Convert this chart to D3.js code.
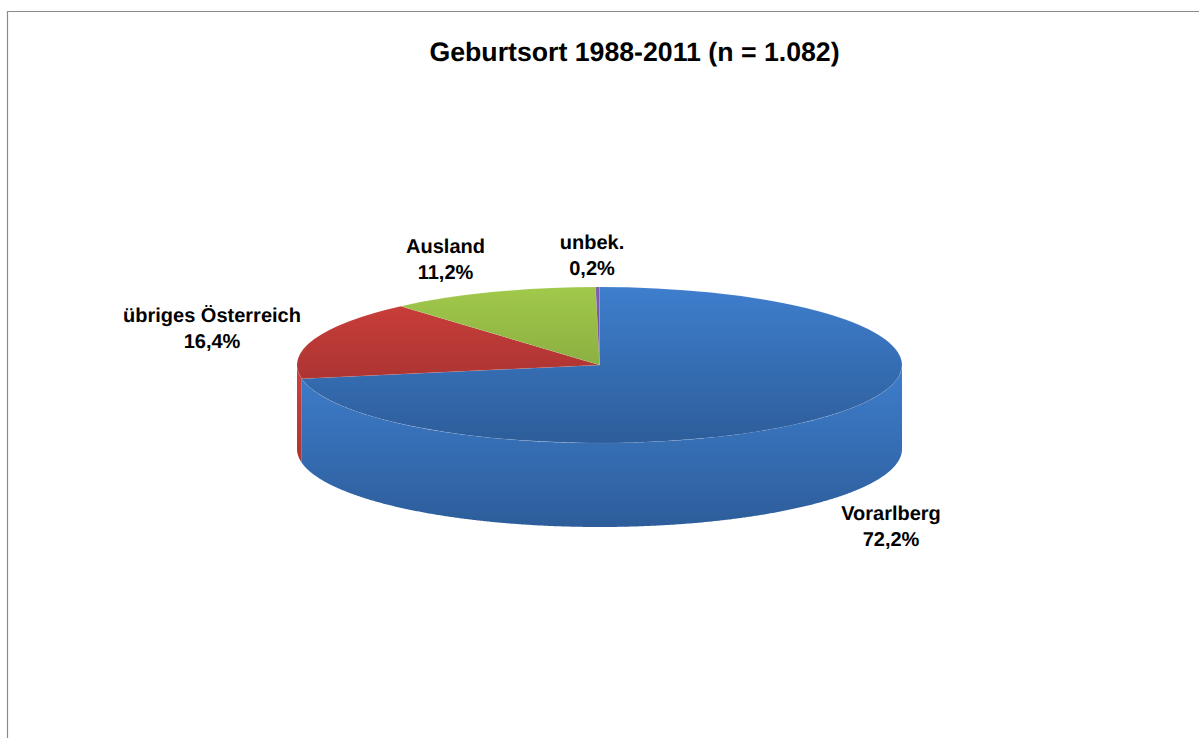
<!DOCTYPE html>
<html>
<head>
<meta charset="utf-8">
<script src="https://cdn.jsdelivr.net/npm/d3@7"></script>
<style>
html, body { margin: 0; padding: 0; background: #fff; }
svg { display: block; }
text { font-family: "Liberation Sans", Arial, sans-serif; font-weight: bold; fill: #000; text-anchor: middle; text-rendering: geometricPrecision; }
</style>
</head>
<body>
<div id="graphic"></div>
<script>
// data
var categories = ["Vorarlberg", "übriges Österreich", "Ausland", "unbek."];
var shares = [72.2, 16.4, 11.2, 0.2];
var labels = ["72,2%", "16,4%", "11,2%", "0,2%"];

// light / dark end of the gradient for each slice
var lightColors = ["#3e7ecd", "#cf3f3c", "#a1c94a", "#7f5fae"];
var darkColors = ["#2d5d9a", "#942d2b", "#76963a", "#5d4580"];

var width = 1199, height = 738;
var cx = 599.5, cy = 365, rx = 302.5, ry = 78, depth = 84;

// label centres (x, y of first line)
var labelX = [891, 212, 445.5, 592];
var labelY = [520, 322, 253, 249];

var svg = d3.select("#graphic").append("svg")
    .attr("width", width)
    .attr("height", height);

// frame, runs off the right and bottom edge
svg.append("path")
    .attr("d", "M7.5," + height + "V11.5H" + width)
    .attr("fill", "none")
    .attr("stroke", "#8a8a8a")
    .attr("stroke-width", 1.2);

var defs = svg.append("defs");
categories.forEach(function (c, i) {
    addGradient("side" + i, cy, cy + ry + depth, lightColors[i], darkColors[i]);
    // local coordinates of the scaled top face
    addGradient("faceGrad" + i, -rx, rx, lightColors[i], darkColors[i]);
});

function addGradient(id, y1, y2, c1, c2) {
    var g = defs.append("linearGradient")
        .attr("id", id)
        .attr("gradientUnits", "userSpaceOnUse")
        .attr("x1", 0).attr("x2", 0)
        .attr("y1", y1).attr("y2", y2);
    g.append("stop").attr("offset", 0).attr("stop-color", c1);
    g.append("stop").attr("offset", 1).attr("stop-color", c2);
}

var slices = d3.pie().sort(null).startAngle(0).endAngle(2 * Math.PI)(shares);

// angle (clockwise from 12 o'clock) to point on the flattened ellipse
function px(a) { return cx + rx * Math.sin(a); }
function py(a) { return cy - ry * Math.cos(a); }

// outer wall, only the part facing the viewer (90deg to 270deg)
var wall = d3.line().x(function (d) { return d[0]; }).y(function (d) { return d[1]; });

slices.forEach(function (s, i) {
    var a0 = Math.max(s.startAngle, Math.PI / 2),
        a1 = Math.min(s.endAngle, 3 * Math.PI / 2);
    if (a1 <= a0) return;
    var angles = d3.range(a0, a1, 0.005).concat([a1]);
    var pts = angles.map(function (a) { return [px(a), py(a)]; })
        .concat(angles.slice().reverse().map(function (a) { return [px(a), py(a) + depth]; }));
    svg.append("path")
        .attr("d", wall(pts) + "Z")
        .attr("fill", "url(#side" + i + ")");
});

// top face: a normal d3 arc squashed into an ellipse
var arc = d3.arc().innerRadius(0).outerRadius(rx);
var topFace = svg.append("g")
    .attr("transform", "translate(" + cx + "," + cy + ") scale(1," + (ry / rx) + ")");

topFace.selectAll("path")
    .data(slices)
    .enter()
    .append("path")
    .attr("d", arc)
    .attr("fill", function (d, i) { return "url(#faceGrad" + i + ")"; })
    .attr("stroke", "#ffffff")
    .attr("stroke-opacity", 0.12)
    .attr("stroke-width", 0.6)
    .attr("vector-effect", "non-scaling-stroke");

svg.append("text")
    .attr("x", 634.5)
    .attr("y", 60.5)
    .style("font-size", "26.7px")
    .text("Geburtsort 1988-2011 (n = 1.082)");

categories.forEach(function (c, i) {
    var t = svg.append("text").style("font-size", "20px");
    t.append("tspan").attr("x", labelX[i]).attr("y", labelY[i]).text(c);
    t.append("tspan").attr("x", labelX[i]).attr("y", labelY[i] + 26).text(labels[i]);
});
</script>
</body>
</html>
